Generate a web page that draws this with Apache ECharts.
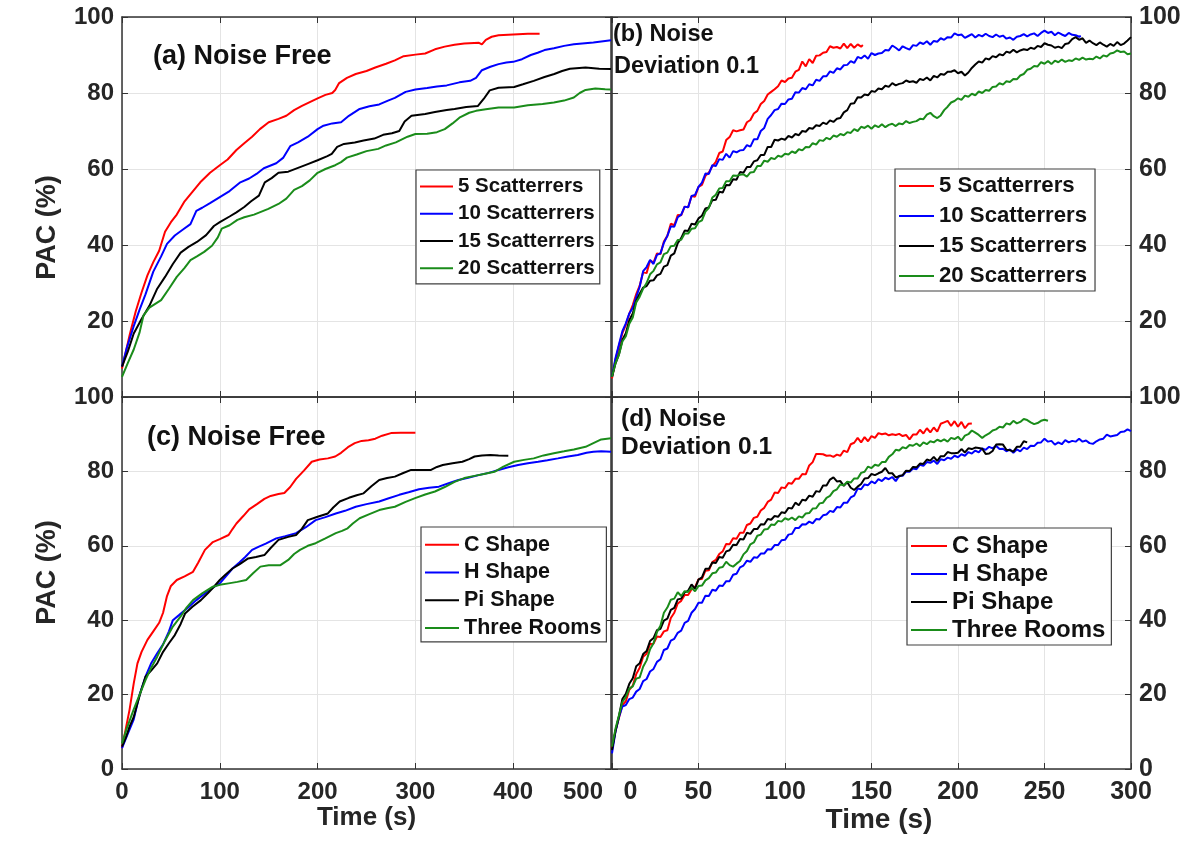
<!DOCTYPE html>
<html>
<head>
<meta charset="utf-8">
<title>PAC vs Time</title>
<script src="https://cdn.jsdelivr.net/npm/echarts@6/dist/echarts.min.js"></script>
<style>
  html, body { margin: 0; padding: 0; background: #fff; }
  #chart { width: 1196px; height: 843px; }
</style>
</head>
<body>
<div id="chart"></div>
<script>
// ---- data: [time (s), PAC (%)] ----

// (a) noise free, number of scatterers
const a5 = [[0,7.5],[4,12],[8,16.5],[14,22.5],[20,27.5],[26,32],[32,35.5],[38,38.5],[44,43.5],[50,46],[56,48],[64,51.5],[72,54],[80,56.5],[90,59],[100,61],[108,62.5],[117,65],[125,66.8],[133,68.5],[141,70.5],[150,72.3],[160,73.2],[168,74],[176,75.5],[184,76.6],[192,77.6],[200,78.6],[208,79.5],[215,80],[218,80.8],[222,82.6],[230,84],[239,85],[250,85.8],[259,86.7],[270,87.7],[279,88.6],[288,89.7],[300,90.1],[310,90.4],[320,91.5],[330,92.2],[340,92.7],[350,93],[365,93.2],[368,92.8],[372,94],[378,94.8],[385,95.2],[400,95.4],[415,95.6],[427,95.6]];
const a10 = [[0,8],[5,13],[11.8,18.5],[18,23],[24,27],[32,33],[40,37],[46,40.3],[54,42.5],[62,44],[70,45.5],[76,49],[82,49.8],[90,51],[100,52.6],[110,54.2],[121,56.5],[130,57.5],[137.5,58.7],[145,60.2],[157.7,61.5],[165,63],[172,66],[180,67],[190,68.5],[200,70.5],[206,71.4],[215,72],[224,72.3],[232,74],[243,75.8],[253,76.5],[263,77],[272,78],[279,78.7],[290,80.3],[300,80.9],[312,81.3],[322,81.7],[332,82],[345,82.8],[356,83.2],[362,84],[368,86],[376.7,86.9],[385,87.6],[393,88],[400,88.2],[409,88.9],[418,90],[425,90.6],[432,91.3],[441.6,91.8],[452,92.4],[462,92.8],[482,93.3],[500,93.9]];
const a15 = [[0,8],[6,12],[12,16.7],[20,20.5],[28,24],[36,28.5],[44,31.6],[52,35],[60,38],[68,39.5],[76.6,40.8],[86,42.6],[94,45],[100,46],[110,47.5],[117,48.6],[125,50],[132,51.5],[140,53],[146,56.5],[153,57.6],[160,59],[170,59.3],[182,60.5],[190,61.3],[200,62.3],[210,63.4],[214.5,64],[220,65.8],[227,66.6],[238,67],[247,67.5],[258,68],[267,69],[276,69.4],[283.5,70],[289,72.5],[296,74],[310,74.5],[320,75],[332,75.5],[340,75.8],[352,76.3],[364,76.6],[370,78.5],[376,80.7],[385,81.4],[401,81.6],[410,82.3],[421,83.2],[432,84.2],[442,85],[450,85.8],[458,86.4],[474,86.7],[488,86.4],[500,86.3]];
const a20 = [[0,5.3],[6,9],[12,12.5],[18,17],[22,21.5],[28,23.5],[34,24.5],[40,25.5],[48,28.5],[56,31.6],[64,34],[70,36],[76.6,37],[84,38.2],[92,39.8],[98,42],[102,44.3],[110,45.2],[118,46.6],[125,47.3],[135,48],[149.6,49.5],[160,50.8],[168,52.2],[176,54.5],[184,55.5],[192,57],[200,59],[208,60],[218,61],[224,61.8],[230,63],[240,63.8],[250,64.7],[262,65.3],[270,66.2],[280,67],[292,68.5],[300,69.2],[312,69.3],[322,69.7],[330,70.5],[338,72],[345,73.5],[355,74.8],[362,75.3],[372,75.7],[385,76.2],[401,76.2],[415,76.8],[430,77.1],[441.6,77.5],[452,78],[462,78.8],[468,80],[474,80.8],[484,81.2],[494,81],[500,80.9]];

// (b) noise deviation 0.1, number of scatterers
const b5 = [[0,4.9],[2,9.8],[4,13.4],[6,16.8],[8,19.0],[10,21.9],[12,24.2],[14,27.1],[16,29.3],[18,32.8],[20,32.6],[22,35.9],[24,35.4],[26,37.8],[28,37.6],[30,40.9],[32,42.4],[34,45.6],[36,45.2],[38,47.9],[40,47.8],[42,50.1],[44,49.9],[46,52.9],[48,52.7],[50,55.3],[52,55.8],[54,58.2],[56,59.1],[58,60.7],[60,61.9],[62,64.2],[64,64.6],[66,67.6],[68,68.4],[70,70.2],[72,69.9],[74,70.2],[76,70.4],[78,72.3],[80,72.9],[82,74.6],[84,75.3],[86,77.1],[88,77.9],[90,79.6],[92,80.3],[94,81.0],[96,81.8],[98,83.3],[100,82.9],[102,83.8],[104,84.0],[106,85.6],[108,86.1],[110,88.3],[112,87.0],[114,88.9],[116,87.9],[118,89.8],[120,89.9],[122,90.6],[124,90.8],[126,92.3],[128,91.9],[130,92.1],[132,91.7],[134,93.0],[136,91.8],[138,92.9],[140,91.9],[142,92.8],[144,92.2],[145,92.6]];
const b10 = [[0,5.3],[2,10.2],[4,13.8],[6,17.3],[8,19.4],[10,22.0],[12,23.5],[14,26.3],[16,29.0],[18,33.1],[20,34.2],[22,36.1],[24,35.0],[26,37.4],[28,37.8],[30,40.6],[32,42.4],[34,44.9],[36,44.8],[38,47.3],[40,48.0],[42,50.1],[44,49.9],[46,52.9],[48,53.2],[50,55.3],[52,56.4],[54,58.8],[56,58.7],[58,61.0],[60,60.8],[62,62.6],[64,62.4],[66,64.0],[68,63.0],[70,64.7],[72,64.4],[74,64.9],[76,65.0],[78,66.3],[80,65.9],[82,67.8],[84,67.8],[86,70.0],[88,70.8],[90,73.2],[92,74.2],[94,75.5],[96,75.8],[98,77.2],[100,77.1],[102,78.3],[104,78.5],[106,80.2],[108,80.1],[110,81.3],[112,81.0],[114,82.3],[116,82.0],[118,83.5],[120,83.2],[122,84.4],[124,84.4],[126,85.7],[128,85.3],[130,86.5],[132,86.2],[134,87.3],[136,87.4],[138,88.4],[140,87.9],[142,89.5],[144,89.1],[146,89.9],[148,89.0],[150,90.5],[152,90.0],[154,90.4],[156,90.5],[158,91.3],[160,91.2],[162,92.5],[164,91.9],[166,91.2],[168,92.3],[170,91.8],[172,91.4],[174,92.6],[176,92.4],[178,93.3],[180,92.9],[182,93.6],[184,92.7],[186,93.7],[188,93.5],[190,94.4],[192,94.0],[194,94.7],[196,94.6],[198,95.7],[200,95.2],[202,95.4],[204,94.5],[206,95.0],[208,95.5],[210,94.6],[212,95.3],[214,94.9],[216,95.6],[218,95.0],[220,94.7],[222,95.4],[224,94.8],[226,95.1],[228,94.3],[230,94.6],[232,94.0],[234,94.8],[236,95.0],[238,95.5],[240,94.9],[242,95.4],[244,95.7],[246,95.0],[248,95.8],[250,96.4],[252,95.8],[254,96.1],[256,95.2],[258,95.9],[260,95.4],[262,95.0],[264,95.8],[266,95.3],[268,95.2],[270,94.8],[271,95.0]];
const b15 = [[0,5.3],[2,8.8],[4,11.2],[6,15.0],[8,16.8],[10,20.2],[12,22.0],[14,25.3],[16,27.2],[18,28.8],[20,29.2],[22,30.6],[24,30.7],[26,32.0],[28,32.4],[30,34.3],[32,34.7],[34,37.2],[36,37.8],[38,40.5],[40,41.8],[42,43.8],[44,43.7],[46,45.6],[48,45.4],[50,47.0],[52,47.7],[54,49.6],[56,49.9],[58,51.8],[60,51.9],[62,54.0],[64,53.8],[66,55.8],[68,55.7],[70,57.3],[72,57.2],[74,59.2],[76,59.0],[78,60.5],[80,60.5],[82,62.0],[84,62.3],[86,63.7],[88,63.7],[90,65.8],[92,65.8],[94,67.7],[96,67.5],[98,68.0],[100,67.7],[102,68.7],[104,68.3],[106,69.2],[108,68.9],[110,70.0],[112,69.8],[114,70.8],[116,70.6],[118,71.5],[120,71.3],[122,72.2],[124,71.8],[126,72.8],[128,72.4],[130,73.2],[132,73.4],[134,74.9],[136,75.5],[138,77.2],[140,77.3],[142,78.9],[144,78.8],[146,79.6],[148,79.4],[150,80.5],[152,80.3],[154,81.2],[156,81.0],[158,81.9],[160,81.6],[162,82.6],[164,82.0],[166,82.4],[168,82.6],[170,83.3],[172,82.9],[174,83.1],[176,82.7],[178,83.7],[180,83.4],[182,84.1],[184,83.3],[186,84.5],[188,84.1],[190,85.0],[192,84.8],[194,85.6],[196,85.6],[198,86.0],[200,85.2],[202,85.6],[204,84.6],[206,85.4],[208,86.6],[210,87.5],[212,88.3],[214,88.0],[216,89.1],[218,88.8],[220,89.7],[222,89.4],[224,90.2],[226,89.9],[228,90.9],[230,90.6],[232,91.4],[234,90.7],[236,91.2],[238,91.5],[240,91.3],[242,91.9],[244,91.6],[246,92.4],[248,92.1],[250,93.1],[252,92.7],[254,92.5],[256,91.9],[258,92.2],[260,91.8],[262,92.9],[264,93.1],[266,94.2],[268,94.7],[270,94.0],[272,94.4],[274,93.2],[276,93.8],[278,93.1],[280,92.6],[282,93.3],[284,92.7],[286,92.2],[288,92.9],[290,92.4],[292,93.4],[294,92.6],[296,93.0],[298,93.8],[300,94.7]];
const b20 = [[0,5.3],[2,8.9],[4,11.1],[6,14.6],[8,16.0],[10,19.3],[12,20.9],[14,24.9],[16,26.4],[18,28.5],[20,30.0],[22,32.3],[24,33.2],[26,34.9],[28,35.4],[30,37.6],[32,38.0],[34,39.7],[36,39.8],[38,41.3],[40,41.4],[42,43.0],[44,43.0],[46,44.3],[48,44.4],[50,46.0],[52,46.5],[54,48.8],[56,49.8],[58,52.5],[60,53.2],[62,54.9],[64,55.0],[66,56.8],[68,56.8],[70,58.3],[72,58.2],[74,58.5],[76,58.6],[78,58.0],[80,59.1],[82,59.2],[84,60.8],[86,60.8],[88,62.2],[90,61.9],[92,62.9],[94,62.6],[96,63.5],[98,63.2],[100,64.0],[102,63.8],[104,64.6],[106,64.2],[108,65.2],[110,64.9],[112,65.8],[114,65.7],[116,66.8],[118,66.4],[120,67.6],[122,67.4],[124,68.2],[126,67.8],[128,68.8],[130,68.5],[132,69.2],[134,68.9],[136,69.7],[138,69.5],[140,70.5],[142,70.0],[144,71.1],[146,70.8],[148,71.4],[150,70.6],[152,71.5],[154,71.0],[156,71.8],[158,71.0],[160,71.6],[162,71.9],[164,71.3],[166,72.0],[168,71.8],[170,72.6],[172,72.1],[174,72.4],[176,72.6],[178,73.2],[180,73.1],[182,74.3],[184,74.8],[186,73.9],[188,73.4],[190,74.1],[192,75.5],[194,76.4],[196,77.5],[198,77.9],[200,78.6],[202,78.2],[204,79.3],[206,79.0],[208,79.8],[210,79.4],[212,80.4],[214,80.0],[216,80.8],[218,80.6],[220,81.6],[222,81.7],[224,82.6],[226,82.2],[228,83.1],[230,82.9],[232,83.7],[234,83.6],[236,84.6],[238,85.0],[240,86.1],[242,86.4],[244,87.1],[246,87.0],[248,88.1],[250,87.7],[252,88.4],[254,87.6],[256,88.5],[258,88.1],[260,88.8],[262,88.2],[264,88.6],[266,88.4],[268,89.1],[270,88.7],[272,89.3],[274,88.8],[276,89.0],[278,88.9],[280,89.6],[282,89.1],[284,89.9],[286,89.6],[288,90.4],[290,90.6],[292,91.2],[294,90.8],[296,90.9],[298,90.2],[300,90.4]];

// (c) noise free, room shape
const cC = [[0,5.6],[4,11],[7.7,15.9],[12,23],[15.8,28.4],[20,31.5],[26,34.7],[32,37],[38,39.3],[42,42],[46,46.5],[50,49.2],[56,50.8],[64,51.8],[72.6,53],[78,55.5],[84.8,58.9],[92.9,61],[100,61.8],[109,62.9],[113,64.5],[117,66],[124,68],[130,69.8],[138,71.2],[145.6,72.6],[152,73.4],[160,73.9],[166,74.2],[172,75.8],[178,78],[186,80.2],[194,82.6],[202,83.2],[210.5,83.5],[218,84],[224,85],[231,86.5],[238,87.6],[245,88.2],[252,88.4],[259,88.8],[266,89.6],[275,90.3],[285,90.4],[300,90.4]];
const cH = [[0,5.6],[6,9.5],[11.8,13.2],[18,20],[24,24.8],[30,28.5],[36,31.1],[42,33.5],[48,37],[52,40],[58,41.3],[68.5,43.6],[76,45.4],[84.8,47.2],[92,48.6],[100,49.9],[106,51.7],[113,53.9],[120,55.5],[126,57],[133,58.9],[140,59.8],[147,60.6],[157.7,62],[167,62.6],[178,63.4],[188,65],[198,66.9],[208,67.7],[218.6,68.7],[228,69.4],[239,70.5],[250,71.2],[263,71.9],[272,72.7],[283.5,73.7],[293,74.4],[303.7,75.2],[314,75.6],[324,75.9],[334,76.8],[344,77.7],[354,78.3],[364.6,79],[375,79.6],[385,80.4],[395,81.1],[405,81.7],[415,82.2],[425.5,82.6],[435,83],[445.7,83.5],[456,84],[466,84.4],[475,85],[482,85.3],[490,85.4],[500,85.3]];
const cPi = [[0,6],[4,8.5],[7.7,11.4],[12,14],[15.8,17.7],[20,21.5],[24,24.8],[30,26.5],[36,28.4],[42,31.5],[48,33.8],[54,36],[60,39],[64.5,41.8],[72,43.6],[80.7,45.4],[88,47.3],[94,49],[100,50.8],[106,52.3],[113,53.9],[120,55],[129,56.6],[137,57],[145.6,57.5],[152,59.4],[160,61.6],[170,62.4],[178,62.9],[184,64.6],[190,66.9],[200,67.8],[210.5,68.7],[216,70.3],[222.6,71.9],[232,72.9],[240,73.6],[247,74.1],[255,76],[263,77.7],[271,78.2],[279,78.6],[287,79.5],[295.6,80.4],[305,80.4],[316,80.4],[322,81.2],[328,81.7],[338,82.2],[348,82.6],[355,83.3],[360.5,84],[368,84.3],[376.7,84.4],[385,84.3],[395,84.2]];
const cThree = [[0,6.9],[5,11],[11.8,15.9],[18,20],[24,23.9],[30,27.3],[36,30.2],[44,34.5],[52,38.3],[60,41],[66,43.4],[72.6,45.4],[82,47.2],[92.9,49],[100,49.5],[109,49.9],[118,50.3],[127,50.8],[134,52.6],[141.5,54.4],[150,54.8],[162,54.8],[170,56.2],[176,57.8],[182,58.9],[190,60],[198,60.7],[208,62],[218.6,63.4],[225,64],[230.7,64.7],[236,66],[243,67.4],[253,68.5],[263,69.6],[271,70.1],[279,70.5],[290,71.8],[299.7,72.8],[310,73.8],[320,74.6],[330,75.8],[340,77.2],[350,78.2],[360.5,78.8],[370,79.3],[380.8,79.9],[390,81.3],[401,82.6],[411,83.1],[421,83.5],[431,84.3],[441.6,84.9],[452,85.4],[462,85.9],[474,86.6],[482,87.6],[490,88.6],[500,88.9]];

// (d) noise deviation 0.1, room shape
const dC = [[0,5.6],[2,10.2],[4,13.7],[6,17.2],[8,18.2],[10,21.3],[12,22.4],[14,25.5],[16,27.2],[18,30.2],[20,31.0],[22,33.6],[24,33.7],[26,35.6],[28,35.5],[30,37.0],[32,37.3],[34,40.6],[36,42.0],[38,44.5],[40,45.2],[42,46.8],[44,46.8],[46,48.3],[48,48.9],[50,51.0],[52,51.1],[54,53.3],[56,53.4],[58,55.6],[60,56.2],[62,57.8],[64,58.5],[66,60.5],[68,60.4],[70,62.0],[72,61.9],[74,63.5],[76,63.5],[78,65.6],[80,66.0],[82,67.5],[84,67.8],[86,69.5],[88,70.2],[90,71.8],[92,72.4],[94,74.3],[96,74.2],[98,75.7],[100,75.5],[102,76.9],[104,76.7],[106,78.0],[108,78.0],[110,79.3],[112,79.2],[114,81.6],[116,82.5],[118,84.7],[120,84.7],[122,84.6],[124,84.2],[126,84.3],[128,83.9],[130,84.5],[132,84.2],[134,85.6],[136,85.2],[138,87.3],[140,87.7],[142,89.0],[144,87.8],[146,89.2],[148,88.1],[150,89.5],[152,89.0],[154,90.3],[156,90.0],[158,90.2],[160,89.7],[162,90.0],[164,89.8],[166,90.1],[168,89.5],[170,89.8],[172,88.6],[174,89.9],[176,89.9],[178,91.2],[180,90.2],[182,91.6],[184,90.5],[186,91.8],[188,90.7],[190,92.8],[192,93.2],[194,93.6],[196,92.2],[198,93.5],[200,92.0],[202,93.3],[204,91.6],[206,92.8],[208,92.9]];
const dH = [[0,4.2],[2,10.0],[4,13.9],[6,16.8],[8,17.2],[10,18.8],[12,19.2],[14,20.8],[16,21.5],[18,23.6],[20,24.2],[22,26.2],[24,26.9],[26,28.8],[28,29.5],[30,32.0],[32,32.4],[34,34.5],[36,35.0],[38,36.6],[40,37.2],[42,39.3],[44,39.8],[46,42.0],[48,43.0],[50,44.7],[52,44.7],[54,46.6],[56,46.5],[58,48.2],[60,47.9],[62,49.3],[64,49.2],[66,50.5],[68,50.5],[70,52.2],[72,52.5],[74,54.2],[76,54.7],[78,56.0],[80,55.7],[82,56.9],[84,56.8],[86,57.9],[88,57.9],[90,59.1],[92,59.0],[94,60.2],[96,60.2],[98,61.5],[100,61.6],[102,63.0],[104,63.2],[106,64.8],[108,64.8],[110,65.8],[112,65.7],[114,66.5],[116,66.0],[118,67.2],[120,67.1],[122,68.2],[124,68.4],[126,69.4],[128,69.1],[130,70.4],[132,70.3],[134,71.6],[136,71.6],[138,73.0],[140,73.5],[142,75.4],[144,75.2],[146,76.5],[148,76.3],[150,77.3],[152,76.8],[154,77.9],[156,77.4],[158,78.3],[160,77.9],[162,78.5],[164,77.4],[166,78.8],[168,78.8],[170,80.0],[172,79.9],[174,80.8],[176,80.6],[178,81.8],[180,81.5],[182,82.5],[184,82.3],[186,82.9],[188,82.0],[190,83.3],[192,83.0],[194,83.7],[196,83.4],[198,84.2],[200,83.8],[202,84.6],[204,84.2],[206,85.2],[208,84.8],[210,85.6],[212,85.1],[214,86.2],[216,85.8],[218,86.6],[220,86.2],[222,86.9],[224,86.0],[226,86.1],[228,85.4],[230,85.9],[232,85.0],[234,85.9],[236,85.4],[238,86.4],[240,86.0],[242,86.9],[244,86.8],[246,87.7],[248,87.8],[250,88.8],[252,88.0],[254,88.2],[256,87.2],[258,87.8],[260,87.3],[262,88.4],[264,87.8],[266,88.2],[268,88.0],[270,88.8],[272,88.0],[274,88.3],[276,87.6],[278,87.4],[280,88.1],[282,88.6],[284,88.8],[286,89.9],[288,89.4],[290,89.6],[292,89.8],[294,90.6],[296,90.7],[298,91.3],[300,90.8]];
const dPi = [[0,5.1],[2,10.2],[4,14.2],[6,18.8],[8,20.2],[10,22.9],[12,24.4],[14,27.6],[16,28.4],[18,30.9],[20,31.7],[22,34.4],[24,35.2],[26,37.3],[28,37.7],[30,39.9],[32,40.4],[34,42.8],[36,43.3],[38,45.6],[40,45.8],[42,47.5],[44,47.9],[46,49.6],[48,48.5],[50,50.9],[52,51.5],[54,53.8],[56,53.8],[58,55.5],[60,55.4],[62,57.0],[64,56.8],[66,58.5],[68,58.8],[70,60.3],[72,60.2],[74,61.8],[76,61.7],[78,63.5],[80,63.2],[82,64.5],[84,64.5],[86,65.8],[88,65.7],[90,67.2],[92,67.0],[94,68.0],[96,67.8],[98,69.0],[100,68.8],[102,70.2],[104,70.0],[106,71.6],[108,70.9],[110,72.4],[112,72.2],[114,73.5],[116,73.2],[118,74.7],[120,74.5],[122,76.2],[124,76.2],[126,77.8],[128,78.4],[130,77.3],[132,77.4],[134,76.1],[136,77.1],[138,75.6],[140,75.0],[142,75.9],[144,76.6],[146,78.1],[148,78.2],[150,79.3],[152,79.0],[154,79.5],[156,79.9],[158,80.9],[160,79.5],[162,79.5],[164,78.4],[166,78.7],[168,79.0],[170,80.2],[172,80.1],[174,81.2],[176,81.1],[178,82.1],[180,82.0],[182,83.2],[184,82.9],[186,83.9],[188,82.8],[190,84.1],[192,84.1],[194,85.2],[196,84.9],[198,84.9],[200,85.0],[202,86.0],[204,85.1],[206,86.2],[208,86.0],[210,86.4],[212,86.3],[214,86.1],[216,84.7],[218,84.8],[220,85.5],[222,87.2],[224,87.3],[226,87.2],[228,85.8],[230,85.7],[232,85.3],[234,86.6],[236,86.6],[238,88.1],[240,87.8]];
const dThree = [[0,6.0],[2,10.8],[4,14.4],[6,18.0],[8,19.4],[10,21.6],[12,22.2],[14,24.3],[16,24.6],[18,27.5],[20,29.2],[22,32.2],[24,33.8],[26,36.8],[28,38.5],[30,42.0],[32,43.4],[34,45.5],[36,45.8],[38,47.5],[40,46.5],[42,47.8],[44,47.6],[46,48.7],[48,47.8],[50,49.2],[52,49.3],[54,50.7],[56,51.3],[58,52.6],[60,52.8],[62,54.1],[64,54.3],[66,55.7],[68,54.8],[70,54.4],[72,55.2],[74,55.9],[76,57.7],[78,58.6],[80,60.4],[82,60.9],[84,62.7],[86,63.0],[88,64.4],[90,64.5],[92,65.7],[94,65.6],[96,66.7],[98,66.5],[100,67.4],[102,67.0],[104,67.6],[106,66.9],[108,67.9],[110,67.6],[112,68.7],[114,68.8],[116,70.0],[118,70.1],[120,71.4],[122,71.6],[124,72.9],[126,73.4],[128,74.7],[130,75.2],[132,76.5],[134,76.3],[136,77.2],[138,77.0],[140,78.1],[142,78.1],[144,79.6],[146,79.9],[148,81.3],[150,80.9],[152,81.8],[154,81.5],[156,82.5],[158,82.5],[160,83.9],[162,84.6],[164,85.8],[166,85.6],[168,86.5],[170,86.2],[172,87.1],[174,86.9],[176,87.5],[178,86.8],[180,87.8],[182,87.3],[184,88.1],[186,87.8],[188,88.5],[190,88.1],[192,88.6],[194,88.0],[196,89.0],[198,88.7],[200,89.3],[202,88.3],[204,89.6],[206,90.0],[208,91.0],[210,90.4],[212,89.8],[214,89.0],[216,89.7],[218,90.2],[220,91.0],[222,91.3],[224,92.0],[226,91.8],[228,92.9],[230,92.6],[232,93.6],[234,92.9],[236,93.3],[238,94.1],[240,93.8],[242,93.2],[244,92.7],[246,93.0],[248,93.6],[250,93.9],[252,93.6]];

const scatterNames = ['5 Scatterrers', '10 Scatterrers', '15 Scatterrers', '20 Scatterrers'];
const shapeNames = ['C Shape', 'H Shape', 'Pi Shape', 'Three Rooms'];
const lineColors = ['#ff0000', '#0000ff', '#000000', '#1a8c1a'];

// ---- styling ----
const FONT = '"Liberation Sans", Arial, Helvetica, sans-serif';
const INK = '#262626';
const AXIS = '#333333';

const grids = [
  { left: 122, top: 17, width: 489, height: 380 },   // (a)
  { left: 612, top: 17, width: 519, height: 380 },   // (b)
  { left: 122, top: 397, width: 489, height: 372 },  // (c)
  { left: 612, top: 397, width: 519, height: 372 }   // (d)
];

function labelFont(size) {
  return { fontFamily: FONT, fontSize: size, fontWeight: 'bold', color: INK };
}

function xAx(g, max, step, pos, extra) {
  return Object.assign({
    type: 'value', gridIndex: g, min: 0, max: max, interval: step, position: pos,
    axisLine: { show: true, onZero: false, lineStyle: { color: AXIS, width: 1.5 } },
    axisTick: { show: true, inside: true, length: 6, lineStyle: { color: AXIS, width: 1 } },
    axisLabel: { show: false },
    splitLine: { show: pos === 'bottom', lineStyle: { color: '#e4e4e4', width: 1 } }
  }, extra || {});
}

function yAx(g, pos, extra) {
  return Object.assign({
    type: 'value', gridIndex: g, min: 0, max: 100, interval: 20, position: pos,
    axisLine: { show: true, onZero: false, lineStyle: { color: AXIS, width: 1.5 } },
    axisTick: { show: true, inside: true, length: 6, lineStyle: { color: AXIS, width: 1 } },
    axisLabel: { show: false },
    splitLine: { show: pos === 'left', lineStyle: { color: '#e4e4e4', width: 1 } }
  }, extra || {});
}

const xAxes = [
  xAx(0, 500, 100, 'bottom'),
  xAx(1, 300, 50, 'bottom'),
  xAx(2, 500, 100, 'bottom', {
    name: 'Time (s)', nameLocation: 'middle', nameGap: 36,
    nameTextStyle: labelFont(26),
    axisLabel: Object.assign(labelFont(24), {
      show: true, margin: 11, alignMaxLabel: 'right',
      formatter: v => v === 500 ? '{e|500}' : String(v),
      rich: { e: Object.assign(labelFont(24), { padding: [0, 8, 0, 0] }) }
    })
  }),
  xAx(3, 300, 50, 'bottom', {
    name: 'Time (s)', nameLocation: 'middle', nameGap: 35,
    nameTextStyle: Object.assign(labelFont(28), { padding: [0, 0, 0, 15] }),
    axisLabel: Object.assign(labelFont(25), {
      show: true, margin: 11,
      formatter: v => v === 0 ? '{s|0}' : String(v),
      rich: { s: Object.assign(labelFont(25), { padding: [0, 0, 0, 37] }) }
    })
  }),
  xAx(0, 500, 100, 'top'),
  xAx(1, 300, 50, 'top'),
  xAx(2, 500, 100, 'top'),
  xAx(3, 300, 50, 'top')
];

const yAxes = [
  yAx(0, 'left', {
    name: 'PAC (%)', nameLocation: 'middle', nameGap: 61,
    nameTextStyle: Object.assign(labelFont(27), { padding: [0, 41, 0, 0] }),
    axisLabel: Object.assign(labelFont(24), { show: true, margin: 8, showMinLabel: false })
  }),
  yAx(1, 'left'),
  yAx(2, 'left', {
    name: 'PAC (%)', nameLocation: 'middle', nameGap: 61,
    nameTextStyle: Object.assign(labelFont(27), { padding: [0, 0, 0, 21] }),
    axisLabel: Object.assign(labelFont(24), { show: true, margin: 8 })
  }),
  yAx(3, 'left'),
  yAx(0, 'right'),
  yAx(1, 'right', {
    axisLabel: Object.assign(labelFont(25), { show: true, margin: 8, showMinLabel: false })
  }),
  yAx(2, 'right'),
  yAx(3, 'right', {
    axisLabel: Object.assign(labelFont(25), { show: true, margin: 8 })
  })
];

const panels = [
  { g: 0, names: scatterNames, data: [a5, a10, a15, a20] },
  { g: 1, names: scatterNames, data: [b5, b10, b15, b20] },
  { g: 2, names: shapeNames, data: [cC, cH, cPi, cThree] },
  { g: 3, names: shapeNames, data: [dC, dH, dPi, dThree] }
];

const series = [];
panels.forEach(p => {
  p.data.forEach((d, i) => {
    series.push({
      type: 'line', name: p.names[i], data: d,
      xAxisIndex: p.g, yAxisIndex: p.g,
      symbol: 'none', showSymbol: false, z: 3,
      lineStyle: { color: lineColors[i], width: 2 },
      itemStyle: { color: lineColors[i] }
    });
  });
});

function legendBox(names, left, top, fontSize, rowH, iconW, pad) {
  return {
    orient: 'vertical', left: left, top: top, data: names,
    icon: 'rect', itemWidth: iconW, itemHeight: 2, itemGap: 0,
    padding: pad, backgroundColor: '#ffffff',
    borderColor: '#404040', borderWidth: 1.2, borderRadius: 0,
    selectedMode: false,
    textStyle: { fontFamily: FONT, fontSize: fontSize, fontWeight: 'bold', color: '#111', lineHeight: rowH }
  };
}

const legends = [
  legendBox(scatterNames, 416, 170, 20.5, 27.2, 33, [3, 5, 2, 4]),
  legendBox(scatterNames, 895, 169, 22.2, 30, 35, [2, 8, 0, 4]),
  legendBox(shapeNames, 421, 527, 21.5, 27.7, 34, [4, 5, 0, 4]),
  legendBox(shapeNames, 907, 528, 24, 28, 36, [4, 6, 1, 4])
];

function note(text, x, y, size) {
  return {
    type: 'text', x: x, y: y, z: 10,
    style: { text: text, fontFamily: FONT, fontSize: size, fontWeight: 'bold', fill: '#111', verticalAlign: 'middle' }
  };
}

const chart = echarts.init(document.getElementById('chart'));
chart.setOption({
  animation: false,
  backgroundColor: '#ffffff',
  grid: grids,
  xAxis: xAxes,
  yAxis: yAxes,
  legend: legends,
  series: series,
  graphic: [
    note('(a) Noise Free', 153, 57, 27),
    note('(b) Noise', 613, 35, 23.5),
    note('Deviation 0.1', 614, 67, 23.5),
    note('(c) Noise Free', 147, 438, 27),
    note('(d) Noise', 621, 419, 24.5),
    note('Deviation 0.1', 621, 447, 24.5)
  ]
});
</script>
</body>
</html>
